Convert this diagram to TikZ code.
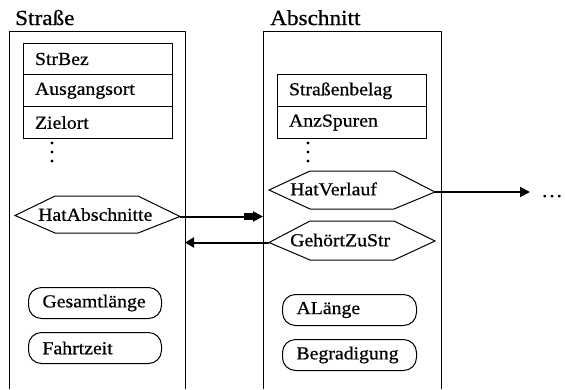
\documentclass[tikz,border=0pt]{standalone}
\usepackage{fontspec}
\setmainfont[FakeBold=0.6,FakeStretch=1.08]{Liberation Serif}
\usetikzlibrary{arrows.meta}
\begin{document}
\begin{tikzpicture}[x=1pt,y=-1pt,
  lbl/.style={font=\fontsize{18.3}{20}\selectfont, inner sep=0pt},
  ttl/.style={font=\fontsize{21.5}{24}\selectfont, inner sep=0pt, anchor=base west},
  frame/.style={line width=1pt},
  attr/.style={draw, line width=1pt, minimum width=149pt, minimum height=31.7pt,
    text width=125pt, align=left, inner xsep=12pt, inner ysep=0pt,
    font=\fontsize{18.3}{20}\selectfont},
  pill/.style={draw, line width=1pt, rounded corners=13pt, minimum height=31pt,
    inner ysep=0pt, inner xsep=14pt, align=left,
    font=\fontsize{18.3}{20}\selectfont},
  hex/.style={line width=1pt},
  conn/.style={line width=2pt},
  dot/.style={fill=black}
]
\useasboundingbox (0,0) rectangle (565,389);
\fill[white] (0,0) rectangle (565,389);

% titles
\node[ttl] (tstr) at (15,25) {Straße};
\node[ttl] (tabs) at (270,25) {Abschnitt};

% outer frames (open at bottom)
\draw[frame] (9,389) |- (185,31) -- (185,389);
\draw[frame] (263,389) |- (441,31) -- (441,389);
\coordinate (strR) at (185,242.5);
\coordinate (absL) at (263,216.5);

% attributes Strasse
\node[attr] (strbez) at (97.5,59) {StrBez};
\node[attr] (ausg) at (97.5,90.8) {Ausgangsort};
\node[attr] (ziel) at (97.5,122.5) {Zielort};
\foreach \y in {143,152,161} \fill[dot] (52,\y) circle (1.7pt);

% attributes Abschnitt
\node[attr] (belag) at (351.5,90.8) {Straßenbelag};
\node[attr] (spuren) at (351.5,122.5) {AnzSpuren};
\foreach \y in {143,152,161} \fill[dot] (308,\y) circle (1.7pt);

% hexagon HatAbschnitte
\node[lbl, anchor=west] (hatab) at (38,214.5) {HatAbschnitte};
\coordinate (hatabL) at (15,215.5);
\coordinate (hatabR) at (180,216.5);
\draw[hex] (hatabL) -- (55,196) -- (138,196) -- (hatabR) -- (138,233) -- (55,233) -- cycle;

% hexagon HatVerlauf
\node[lbl, anchor=west] (hatv) at (290,189) {HatVerlauf};
\coordinate (hatvL) at (269,190);
\coordinate (hatvR) at (435,192);
\draw[hex] (hatvL) -- (310,171) -- (394,171) -- (hatvR) -- (394,209) -- (310,209) -- cycle;

% hexagon GehoertZuStr
\node[lbl, anchor=west] (gzs) at (290,240) {GehörtZuStr};
\coordinate (gzsL) at (269,242.5);
\coordinate (gzsR) at (435,241);
\draw[hex] (gzsL) -- (310,221) -- (394,221) -- (gzsR) -- (394,260) -- (310,260) -- cycle;

% pills
\node[pill, anchor=north west, minimum width=133pt, text width=105pt] (ges) at (28,287) {Gesamtlänge};
\node[pill, anchor=north west, minimum width=133pt, text width=105pt] (fahrt) at (28,332) {Fahrtzeit};
\node[pill, anchor=north west, minimum width=134pt, text width=106pt] (alaenge) at (282,294) {ALänge};
\node[pill, anchor=north west, minimum width=134pt, text width=106pt] (begr) at (282,339) {Begradigung};

% connectors
\draw[conn, -{Square[length=9pt,width=7pt]Triangle[length=10pt,width=10pt]}] (hatabR) -- (absL);
\draw[conn, -{Triangle[length=9pt,width=10pt]}] (gzsL) -- (strR);
\coordinate (more) at (530,192);
\draw[conn, -{Triangle[length=10pt,width=10pt]}] (hatvR) -- (more);
\node[lbl, anchor=base west, font=\fontsize{20}{22}\selectfont] (dots) at (541,197) {\ldots};
\end{tikzpicture}
\end{document}
